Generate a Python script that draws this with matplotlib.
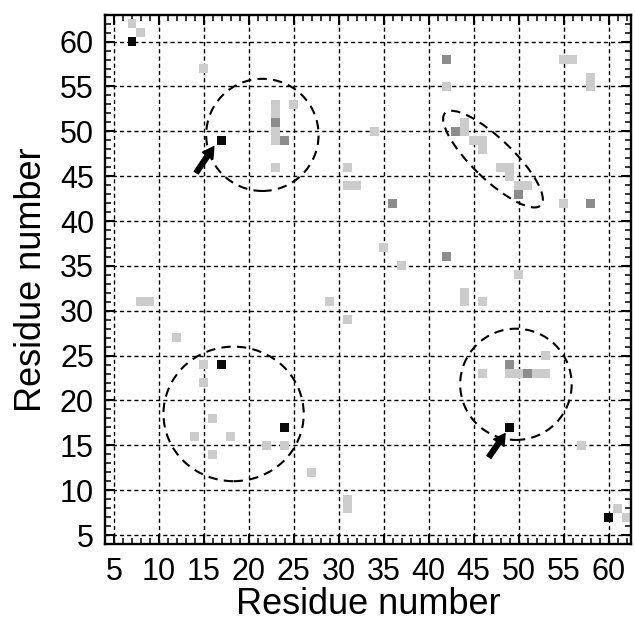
import matplotlib
matplotlib.use("Agg")
import matplotlib.pyplot as plt
from matplotlib.patches import Ellipse
from matplotlib.ticker import MultipleLocator

plt.rcParams["font.family"] = ["Liberation Sans", "DejaVu Sans"]

# contact cells (residue i, residue j), grouped by grey level
light_x = [7, 8, 15, 23, 23, 23, 23, 25, 23, 31, 31, 32, 55, 56, 58, 58, 42, 34,
           44, 44, 45, 46, 46, 48, 49, 49, 50, 51, 55, 35, 37, 50, 44, 44, 46,
           8, 9, 29, 31, 12, 15, 15, 53, 46, 49, 50, 52, 53, 16, 14, 18, 22, 24,
           16, 57, 27, 31, 31, 61, 62]
light_y = [62, 61, 57, 53, 52, 50, 49, 53, 46, 46, 44, 44, 58, 58, 56, 55, 55, 50,
           51, 50, 49, 49, 48, 46, 46, 45, 44, 44, 42, 37, 35, 34, 32, 31, 31,
           31, 31, 31, 29, 27, 24, 22, 25, 23, 23, 23, 23, 23, 18, 16, 16, 15, 15,
           14, 15, 12, 9, 8, 8, 7]
dark_x = [23, 24, 42, 43, 50, 36, 58, 42, 49, 51]
dark_y = [51, 49, 58, 50, 43, 42, 42, 36, 24, 23]
black_x = [7, 17, 17, 24, 49, 60]
black_y = [60, 49, 24, 17, 17, 7]

# highlighted regions: centre x, centre y, width, height, angle
regions = [
    (21.5, 49.6, 12.5, 12.5, 0),
    (47.15, 46.9, 14.8, 4.5, -44),
    (18.3, 18.5, 15.6, 15.0, 0),
    (49.7, 21.8, 12.4, 12.4, 0),
]
# arrows: (tail, head)
arrows = [((14.15, 45.4), (16.1, 48.3)), ((46.7, 13.7), (48.5, 16.3))]

fig = plt.figure(figsize=(6.35, 6.25), dpi=100)
ax = fig.add_axes([0.1654, 0.1296, 0.8283, 0.8469])

for xs, ys, col in [(light_x, light_y, "#cccccc"),
                    (dark_x, dark_y, "#8c8c8c"),
                    (black_x, black_y, "#0a0a0a")]:
    ax.bar(xs, 1.0, width=1.0, bottom=[y - 0.5 for y in ys], color=col,
           linewidth=0, zorder=2)

for cx, cy, w, h, ang in regions:
    ax.add_patch(Ellipse((cx, cy), w, h, angle=ang, fill=False, color="black",
                         lw=1.5, linestyle=(0, (4.5, 3)), zorder=4))

for tail, head in arrows:
    ax.annotate("", xy=head, xytext=tail,
                arrowprops=dict(facecolor="black", edgecolor="black", width=3.5,
                                headwidth=9, headlength=8, shrink=0), zorder=5)

ax.set_xlim(4, 62.5)
ax.set_ylim(4, 63)
ax.xaxis.set_minor_locator(MultipleLocator(1))
ax.yaxis.set_minor_locator(MultipleLocator(1))
ax.set_xticks(range(5, 61, 5))
ax.set_yticks(range(5, 61, 5))

ax.grid(True, which="major", color="black", lw=1.0, linestyle=(0, (3, 2.2)),
        zorder=1)
ax.set_axisbelow(True)

ax.tick_params(which="both", direction="in", top=True, right=True,
               labelsize=22, color="black")
ax.tick_params(axis="x", which="both", pad=9)
ax.tick_params(axis="y", which="both", pad=8)
ax.tick_params(which="major", length=7.5, width=1.5)
ax.tick_params(which="minor", length=4.3, width=1.1)
for sp in ax.spines.values():
    sp.set_linewidth(1.7)

ax.set_xlabel("Residue number", fontsize=26, labelpad=0)
ax.set_ylabel("Residue number", fontsize=26, labelpad=8)

fig.savefig("out.png", dpi=100)
